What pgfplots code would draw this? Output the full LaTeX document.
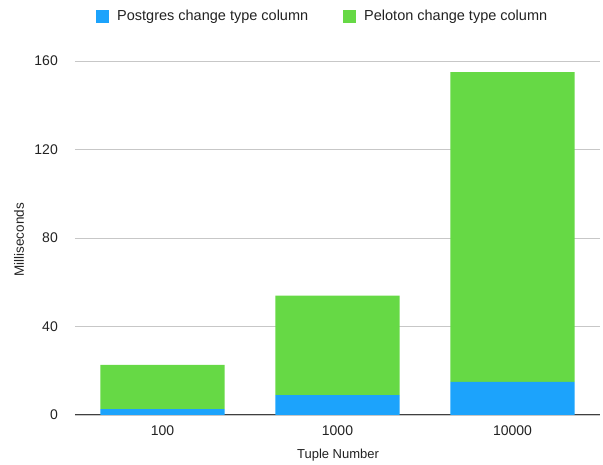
\documentclass[border=0pt]{standalone}
\usepackage{fontspec}
\setmainfont{Liberation Sans}
\usepackage{pgfplots}
\pgfplotsset{compat=1.18}
\definecolor{pgblue}{HTML}{1CA3FC}
\definecolor{pelgreen}{HTML}{66D945}
\definecolor{txt}{HTML}{222222}
\begin{document}
\begin{tikzpicture}
\useasboundingbox (-75pt,-50pt) rectangle (528pt,415pt);
\begin{axis}[
  scale only axis, width=525pt, height=354pt,
  ybar stacked, bar width=0.71,
  xmin=-0.5, xmax=2.5, ymin=0, ymax=160,
  xtick={0,1,2}, xticklabels={100,1000,10000},
  ytick={0,40,80,120,160},
  ymajorgrids, grid style={draw=black!22, line width=0.8pt},
  axis x line*=bottom, axis y line*=left,
  y axis line style={draw=none},
  x axis line style={draw=black!75, line width=1pt, -},
  major tick length=0pt,
  tick label style={font=\fontsize{14}{16}\selectfont, text=txt, inner sep=0pt},
  /pgf/number format/assume math mode=true,
  yticklabel style={anchor=east, xshift=-17pt},
  xticklabel style={anchor=center, yshift=-16pt},
  every axis y label/.style={at={(axis description cs:-0.1067,0.495)}, anchor=center,
    rotate=90, font=\fontsize{13.5}{16}\selectfont, text=txt},
  every axis x label/.style={at={(axis description cs:0.501,-0.113)}, anchor=center,
    font=\fontsize{13}{16}\selectfont, text=txt},
  ylabel={Milliseconds},
  xlabel={Tuple Number},
  legend columns=2,
  legend style={at={(axis description cs:0.04,1.127)}, anchor=west, draw=none, fill=none,
    inner sep=0pt, font=\fontsize{14.5}{16}\selectfont, text=txt,
    /tikz/every odd column/.append style={column sep=6pt},
    /tikz/every even column/.append style={column sep=33pt}},
  legend image code/.code={\fill[#1] (0pt,-6.5pt) rectangle (13pt,6.5pt);},
]
\addplot[fill=pgblue, draw=none] coordinates {(0,2.6) (1,9) (2,15)};
\addplot[fill=pelgreen, draw=none] coordinates {(0,20) (1,45) (2,140)};
\legend{Postgres change type column, Peloton change type column}
\end{axis}
\end{tikzpicture}
\end{document}
